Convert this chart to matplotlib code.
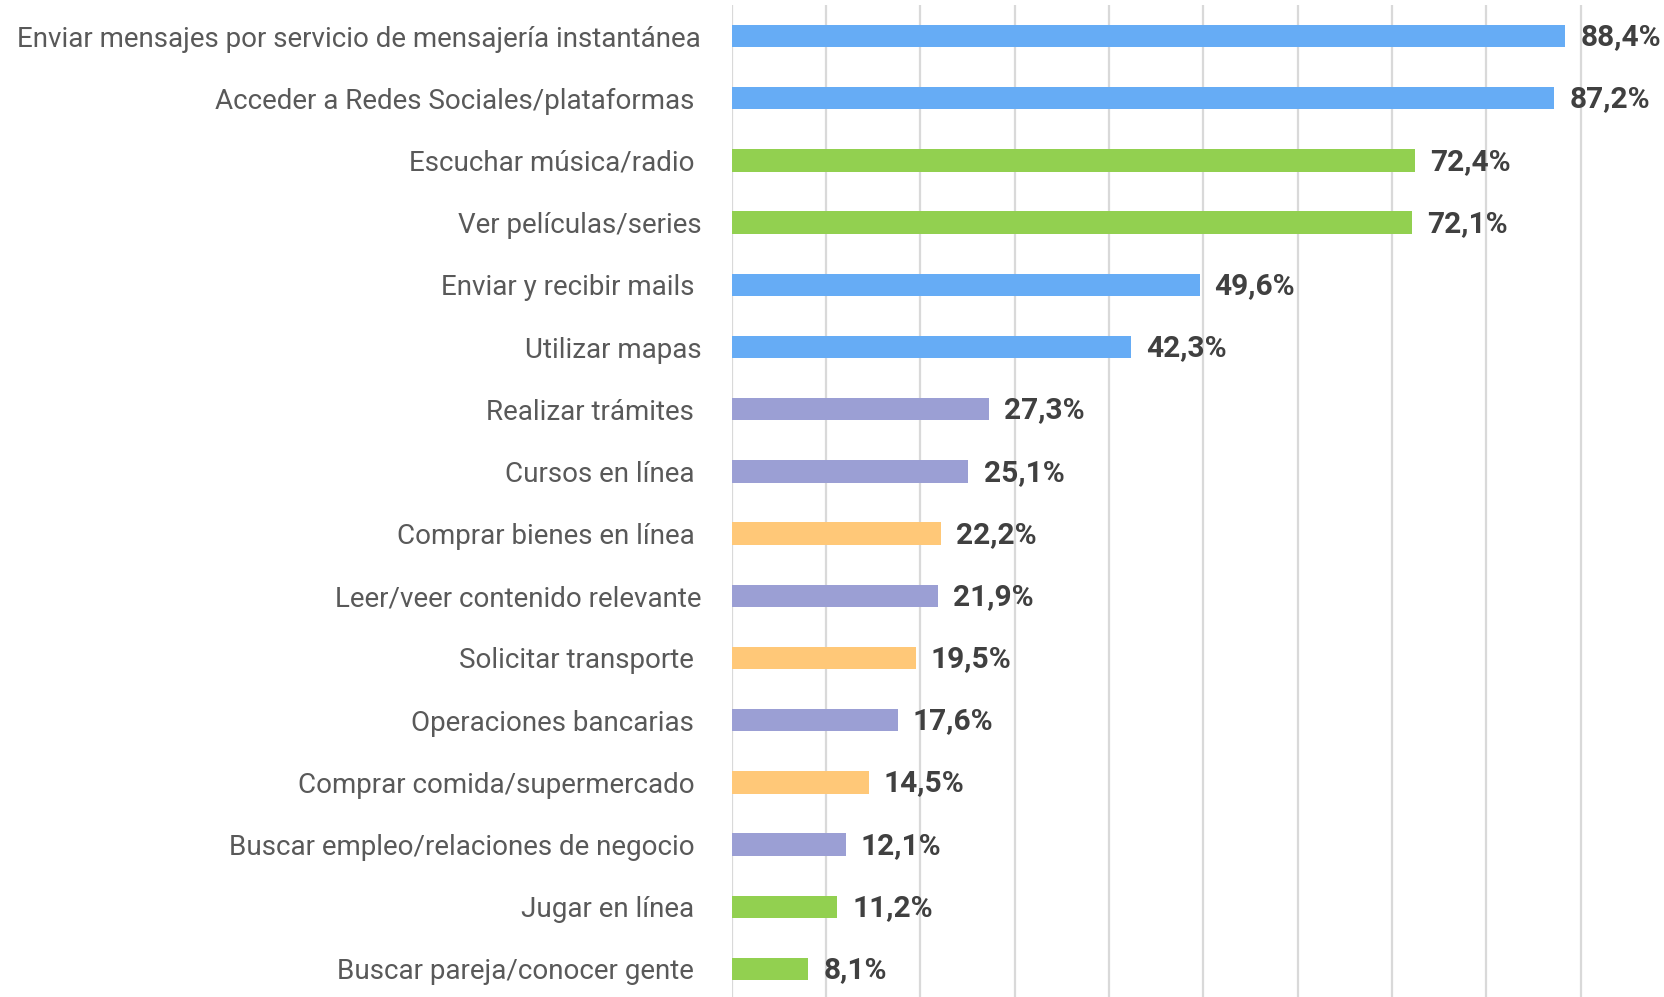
import matplotlib

matplotlib.use("Agg")
import matplotlib.pyplot as plt

categories = [
    "Enviar mensajes por servicio de mensajería instantánea",
    "Acceder a Redes Sociales/plataformas ",
    "Escuchar música/radio ",
    "Ver películas/series",
    "Enviar y recibir mails ",
    "Utilizar mapas",
    "Realizar trámites ",
    "Cursos en línea ",
    "Comprar bienes en línea ",
    "Leer/veer contenido relevante",
    "Solicitar transporte ",
    "Operaciones bancarias ",
    "Comprar comida/supermercado ",
    "Buscar empleo/relaciones de negocio ",
    "Jugar en línea ",
    "Buscar pareja/conocer gente ",
]
values = [88.4, 87.2, 72.4, 72.1, 49.6, 42.3, 27.3, 25.1, 22.2, 21.9, 19.5, 17.6, 14.5, 12.1, 11.2, 8.1]
groups = ["com", "com", "ocio", "ocio", "com", "com", "serv", "serv", "compra", "serv",
          "compra", "serv", "compra", "serv", "ocio", "ocio"]

palette = {"com": "#66ACF5", "ocio": "#92D050", "serv": "#9B9FD4", "compra": "#FFC878"}

fig = plt.figure(figsize=(16.65, 9.97), dpi=100)
ax = fig.add_axes([0.4395, -0.003, 0.5664, 0.998])

pos = list(range(len(values)))
ax.barh(pos, values, height=0.36, color=[palette[g] for g in groups], zorder=3)
for p, v in zip(pos, values):
    ax.text(v + 1.6, p + 0.02, f"{v:.1f}%".replace(".", ","), va="center", ha="left",
            fontsize=21.5, fontweight="bold", color="#404040", family="Roboto", zorder=4)

ax.set_xlim(0, 100)
ax.set_ylim(15.5, -0.5)
ax.set_xticks(range(0, 100, 10))
ax.set_xticklabels([])
ax.tick_params(axis="x", length=0)
ax.grid(axis="x", color="#D9D9D9", linewidth=1.6, zorder=0)
ax.set_yticks(pos)
ax.set_yticklabels(categories, fontsize=20, color="#595959", family="Roboto")
ax.tick_params(axis="y", length=0, pad=22)
for s in ax.spines.values():
    s.set_visible(False)

fig.savefig("out.png", dpi=100)
